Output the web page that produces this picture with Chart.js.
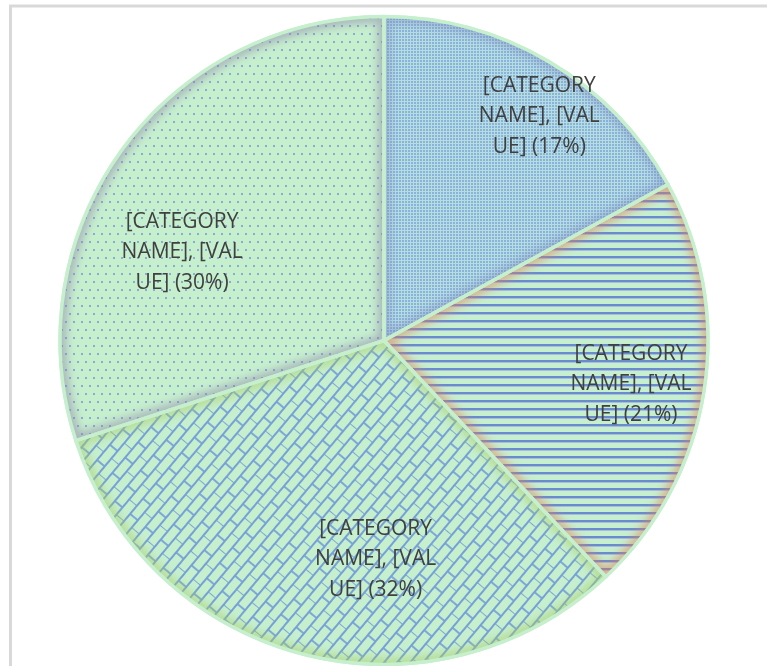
<!DOCTYPE html>
<html>
<head>
<meta charset="utf-8">
<script src="https://cdn.jsdelivr.net/npm/chart.js@4.4.1/dist/chart.umd.min.js"></script>
<style>
  html, body { margin: 0; padding: 0; background: #fff; }
  #wrap { width: 767px; height: 666px; position: relative; }
</style>
</head>
<body>
<div id="wrap"><canvas id="pieChart"></canvas></div>
<script>
// data
const categories = ["[CATEGORY NAME]", "[CATEGORY NAME]", "[CATEGORY NAME]", "[CATEGORY NAME]"];
const shares = [17, 21, 32, 30];
const labelLines = ["[CATEGORY", "NAME], [VAL", "UE]"];

// label placement (radius fraction, angle shift in degrees) - best-fit like Excel
const labelFrac = [0.842, 0.774, 0.675, 0.68];
const labelShift = [4.1, 1.0, -12.2, -12.4];

const green = "#c6efce";

const makeTile = (w, h, drawFn) => {
  const c = document.createElement("canvas");
  c.width = w;
  c.height = h;
  const t = c.getContext("2d");
  drawFn(t);
  return c;
};

const buildPatterns = (ctx) => {
  // fine dots
  const p1 = ctx.createPattern(makeTile(3, 3, (t) => {
    t.fillStyle = "#b6dde0";
    t.fillRect(0, 0, 3, 3);
    t.fillStyle = "#8ab3dc";
    t.fillRect(0, 0, 2, 2);
  }), "repeat");

  // horizontal lines
  const p2 = ctx.createPattern(makeTile(8, 8, (t) => {
    t.fillStyle = green;
    t.fillRect(0, 0, 8, 8);
    t.fillStyle = "#6b8bcf";
    t.fillRect(0, 0, 8, 2);
    t.fillStyle = "#a5bde0";
    t.fillRect(0, 2, 8, 1);
  }), "repeat");

  // diagonal brick
  const bw = 20, bh = 10;
  const p3 = ctx.createPattern(makeTile(bw, bh * 2, (t) => {
    t.fillStyle = green;
    t.fillRect(0, 0, bw, bh * 2);
    t.strokeStyle = "#75a0d8";
    t.lineWidth = 1.8;
    t.beginPath();
    t.moveTo(0, 0); t.lineTo(bw, 0);
    t.moveTo(0, bh); t.lineTo(bw, bh);
    t.moveTo(0, bh * 2); t.lineTo(bw, bh * 2);
    t.moveTo(0, 0); t.lineTo(0, bh);
    t.moveTo(bw / 2, bh); t.lineTo(bw / 2, bh * 2);
    t.stroke();
  }), "repeat");
  p3.setTransform(new DOMMatrix().rotateSelf(-50));

  // sparse dots
  const p4 = ctx.createPattern(makeTile(8, 16, (t) => {
    t.fillStyle = green;
    t.fillRect(0, 0, 8, 16);
    t.fillStyle = "#8aaad8";
    t.fillRect(1, 1, 2, 2);
    t.fillRect(5, 9, 2, 2);
  }), "repeat");

  return [p1, p2, p3, p4];
};

const glowColors = [
  "rgba(125, 135, 190, 0.45)",
  "rgba(225, 125, 90, 0.55)",
  "rgba(170, 205, 100, 0.55)",
  "rgba(140, 125, 170, 0.5)",
];

const arcPath = (ctx, arc) => {
  const { x, y, startAngle, endAngle, outerRadius } = arc.getProps(
    ["x", "y", "startAngle", "endAngle", "outerRadius"], true);
  ctx.beginPath();
  ctx.moveTo(x, y);
  ctx.arc(x, y, outerRadius, startAngle, endAngle);
  ctx.closePath();
};

const decorPlugin = {
  id: "decor",
  beforeDraw(chart) {
    const ctx = chart.ctx;
    ctx.save();
    ctx.fillStyle = "#fff";
    ctx.fillRect(0, 0, chart.width, chart.height);
    ctx.strokeStyle = "#d9d9d9";
    ctx.lineWidth = 3;
    ctx.beginPath();
    ctx.moveTo(10.5, chart.height);
    ctx.lineTo(10.5, 6);
    ctx.lineTo(chart.width, 6);
    ctx.stroke();
    ctx.restore();
  },
  afterDatasetsDraw(chart) {
    const ctx = chart.ctx;
    const arcs = chart.getDatasetMeta(0).data;
    const total = shares.reduce((a, b) => a + b, 0);

    arcs.forEach((arc, i) => {
      ctx.save();
      arcPath(ctx, arc);
      ctx.clip();
      ctx.filter = "blur(4px)";
      ctx.strokeStyle = glowColors[i];
      ctx.lineWidth = 12;
      ctx.stroke();
      ctx.restore();
    });

    arcs.forEach((arc) => {
      ctx.save();
      arcPath(ctx, arc);
      ctx.strokeStyle = green;
      ctx.lineWidth = 3.5;
      ctx.lineJoin = "round";
      ctx.stroke();
      ctx.restore();
    });

    ctx.save();
    ctx.fillStyle = "#404040";
    ctx.font = "21px 'Open Sans'";
    ctx.textAlign = "center";
    ctx.textBaseline = "middle";
    arcs.forEach((arc, i) => {
      const { x, y, startAngle, endAngle, outerRadius } = arc.getProps(
        ["x", "y", "startAngle", "endAngle", "outerRadius"], true);
      const a = (startAngle + endAngle) / 2 + (labelShift[i] * Math.PI) / 180;
      const r = outerRadius * labelFrac[i];
      const cx = x + Math.cos(a) * r;
      const cy = y + Math.sin(a) * r;
      const pct = Math.round((shares[i] / total) * 100);
      const lines = labelLines.slice();
      lines[lines.length - 1] += ` (${pct}%)`;
      const lh = 30.5;
      lines.forEach((line, k) => {
        ctx.fillText(line, cx, cy + (k - (lines.length - 1) / 2) * lh);
      });
    });
    ctx.restore();
  },
};

const canvas = document.getElementById("pieChart");
const patterns = buildPatterns(canvas.getContext("2d"));

new Chart(canvas, {
  type: "pie",
  data: {
    labels: categories,
    datasets: [
      {
        data: shares,
        backgroundColor: patterns,
        borderColor: green,
        borderWidth: 3,
      },
    ],
  },
  options: {
    responsive: true,
    maintainAspectRatio: false,
    animation: false,
    layout: {
      padding: { left: 58, right: 57, top: 15, bottom: 0 },
    },
    plugins: {
      legend: { display: false },
      tooltip: { enabled: false },
    },
  },
  plugins: [decorPlugin],
});
</script>
</body>
</html>
